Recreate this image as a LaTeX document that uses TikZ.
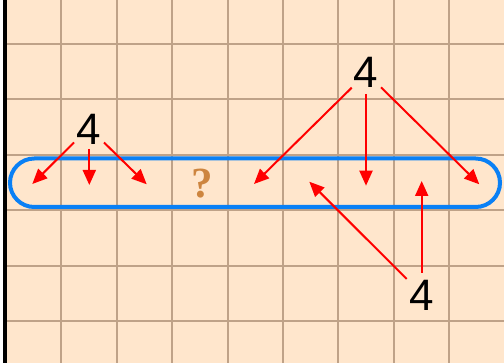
\documentclass[tikz,border=0pt]{standalone}
\usepackage{fontspec}
\setmainfont{Liberation Sans}
\newfontfamily\qfont{Liberation Serif}
\usetikzlibrary{arrows.meta}
\definecolor{peach}{HTML}{FFE6CC}
\definecolor{gridc}{HTML}{BFA288}
\definecolor{ringblue}{HTML}{0A80F5}
\definecolor{qcol}{HTML}{CD853F}
\tikzset{
  numlabel/.style={inner sep=0pt, font=\fontsize{44}{44}\selectfont, text=black},
  redarrow/.style={draw=red, line width=2pt, -{Triangle[length=15pt,width=13pt]}},
}
\begin{document}
\begin{tikzpicture}[x=1pt,y=-1pt]
\useasboundingbox (0,0) rectangle (504,363);
\fill[white] (0,0) rectangle (504,363);
\fill[peach] (5,0) rectangle (504,363);
\begin{scope}
\clip (5,0) rectangle (504,363);
\foreach \i in {1,...,9} {
  \draw[gridc, line width=2pt] ({6+55.4*\i},0) -- ({6+55.4*\i},363);
}
\foreach \j in {0,...,5} {
  \draw[gridc, line width=2pt] (5,{44+55.4*\j}) -- (504,{44+55.4*\j});
}
\end{scope}
\draw[black, line width=4pt] (5.3,0) -- (5.3,363);
\draw[ringblue, line width=4pt, rounded corners=24.25pt] (10,158.5) rectangle (500,207);
\node[inner sep=0pt, text=qcol, font=\qfont\bfseries\fontsize{43}{43}\selectfont] (q) at (202,184) {?};
\node[numlabel] (a) at (89,129) {4};
\node[numlabel] (b) at (366,72) {4};
\node[numlabel] (c) at (422,295) {4};
% start points
\coordinate (a1) at (74,142.5);
\coordinate (a2) at (89.3,149);
\coordinate (a3) at (104,142.5);
\coordinate (b1) at (351.7,87.7);
\coordinate (b2) at (366,94);
\coordinate (b3) at (381,87.3);
\coordinate (c1) at (406.7,279);
\coordinate (c2) at (421.7,272.7);
% end points
\coordinate (ea1) at (32.3,184);
\coordinate (ea2) at (89.3,185);
\coordinate (ea3) at (146.7,184.3);
\coordinate (eb1) at (254,184);
\coordinate (eb2) at (366,185.7);
\coordinate (eb3) at (479.3,184.3);
\coordinate (ec1) at (309.3,181.7);
\coordinate (ec2) at (421.7,181);
\draw[redarrow] (a1) -- (ea1);
\draw[redarrow] (a2) -- (ea2);
\draw[redarrow] (a3) -- (ea3);
\draw[redarrow] (b1) -- (eb1);
\draw[redarrow] (b2) -- (eb2);
\draw[redarrow] (b3) -- (eb3);
\draw[redarrow] (c1) -- (ec1);
\draw[redarrow] (c2) -- (ec2);
\end{tikzpicture}
\end{document}
